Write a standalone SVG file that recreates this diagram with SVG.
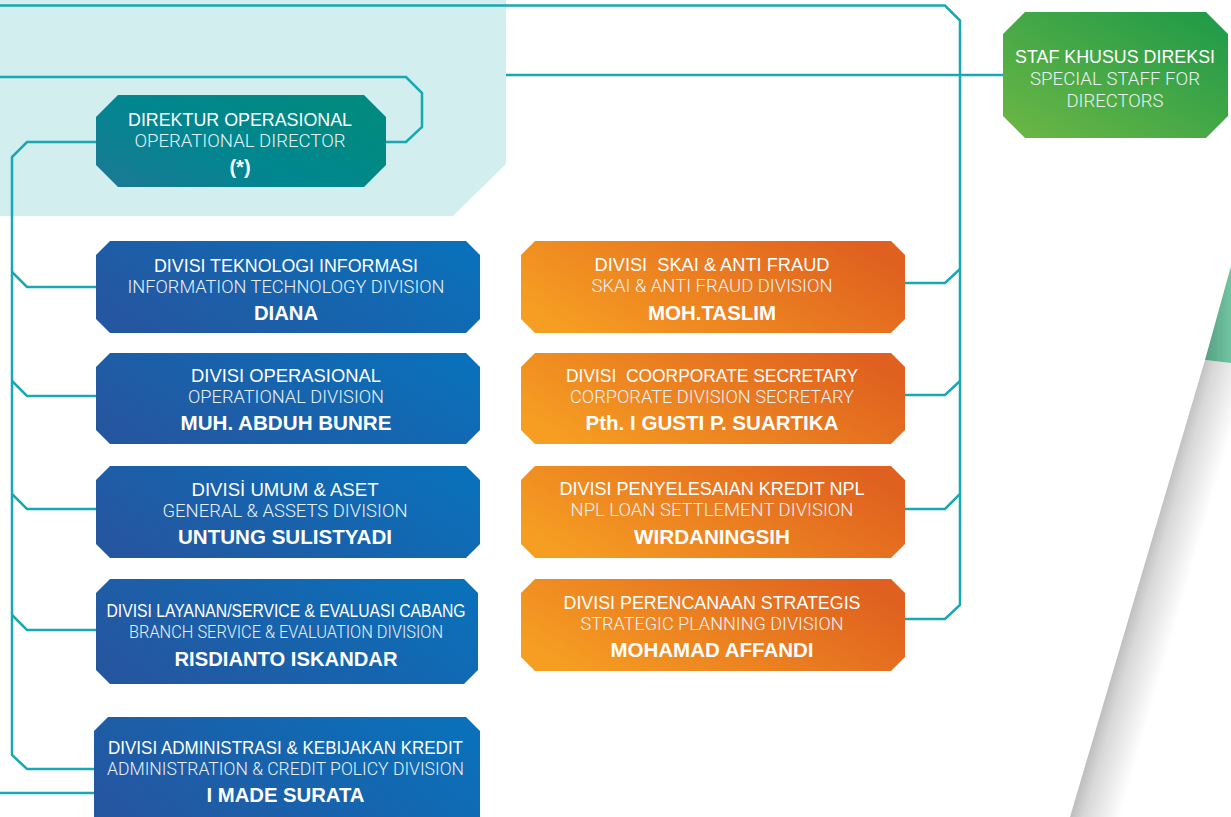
<svg xmlns="http://www.w3.org/2000/svg" width="1231" height="817" viewBox="0 0 1231 817">
<defs>
<linearGradient id="gBlue" x1="0" y1="0.7" x2="1" y2="0.3"><stop offset="0" stop-color="#2556a0"/><stop offset="1" stop-color="#0a70b9"/></linearGradient>
<linearGradient id="gOrange" x1="0" y1="0.7" x2="1" y2="0.3"><stop offset="0" stop-color="#f69e22"/><stop offset="1" stop-color="#df601f"/></linearGradient>
<linearGradient id="gDir" x1="0" y1="1" x2="1" y2="0.4"><stop offset="0" stop-color="#1d7994"/><stop offset="0.5" stop-color="#008690"/><stop offset="1" stop-color="#008a80"/></linearGradient>
<linearGradient id="gStaff" x1="0" y1="1" x2="1" y2="0"><stop offset="0" stop-color="#6db744"/><stop offset="1" stop-color="#1d9949"/></linearGradient>
<linearGradient id="gTri" x1="1205" y1="0" x2="1231" y2="0" gradientUnits="userSpaceOnUse"><stop offset="0" stop-color="#55a083"/><stop offset="1" stop-color="#71c4a2"/></linearGradient>
<linearGradient id="gShadow" x1="1140" y1="580" x2="1185" y2="593" gradientUnits="userSpaceOnUse"><stop offset="0" stop-color="#c0c0c0"/><stop offset="0.25" stop-color="#d8d8d8"/><stop offset="1" stop-color="#ffffff"/></linearGradient>
<style>
.ln{fill:none;stroke:#17a8b1;stroke-width:2.5}
.t1{font-family:'Liberation Sans',Arial,sans-serif;font-size:18px;fill:#ffffff;text-anchor:middle}
.t2{font-family:Roboto,'Liberation Sans',sans-serif;font-weight:300;font-size:18px;fill:#e9f1f8;text-anchor:middle}
.t3{font-family:'Liberation Sans',Arial,sans-serif;font-weight:bold;font-size:20px;fill:#ffffff;text-anchor:middle}
</style>
</defs>
<rect width="1231" height="817" fill="#ffffff"/>
<path d="M0,0 H506 V164 L453,216 H0 Z" fill="#d3eeee"/>
<g id="decor">
<path d="M1205,360 L1231,363 V817 H1070 Z" fill="url(#gShadow)"/>
<path d="M1231,266 L1205,360 L1231,363 Z" fill="url(#gTri)"/>
</g>
<g id="connectors">
<path class="ln" d="M0,5.5 H945 L960,20.5 V605 L945,619 H905"/>
<path class="ln" d="M506,75 H1003"/>
<path class="ln" d="M0,77 H406 L422,93 V127 L406,142 H386"/>
<path class="ln" d="M96,142 H27 L12,157 V755 L27,769 H94"/>
<path class="ln" d="M12,272 L27,287 H96"/>
<path class="ln" d="M12,381 L27,396 H96"/>
<path class="ln" d="M12,494 L27,509 H96"/>
<path class="ln" d="M12,615 L27,630 H96"/>
<path class="ln" d="M0,793 H94"/>
<path class="ln" d="M905,283 H945 L960,269"/>
<path class="ln" d="M905,395 H945 L960,381"/>
<path class="ln" d="M905,509 H945 L960,494"/>
</g>
<g id="director">
<path d="M118,95 H364 L386,117 V165 L364,187 H118 L96,165 V117 Z" fill="url(#gDir)"/>
<text class="t1" x="240" y="126" textLength="224" lengthAdjust="spacingAndGlyphs">DIREKTUR OPERASIONAL</text>
<text class="t2" x="240" y="147" textLength="211" lengthAdjust="spacingAndGlyphs">OPERATIONAL DIRECTOR</text>
<text class="t3" x="240" y="174">(*)</text>
</g>
<g id="staff">
<path d="M1025,12 H1206 L1228,34 V116 L1206,138 H1025 L1003,116 V34 Z" fill="url(#gStaff)"/>
<text class="t1" x="1115" y="63" textLength="200" lengthAdjust="spacingAndGlyphs">STAF KHUSUS DIREKSI</text>
<text class="t2" x="1115" y="85" textLength="170" lengthAdjust="spacingAndGlyphs">SPECIAL STAFF FOR</text>
<text class="t2" x="1115" y="107" textLength="97" lengthAdjust="spacingAndGlyphs">DIRECTORS</text>
</g>
<g id="div-ti">
<path d="M110,241 H466 L480,255 V319 L466,333 H110 L96,319 V255 Z" fill="url(#gBlue)"/>
<text class="t1" x="286" y="271.5" textLength="264" lengthAdjust="spacingAndGlyphs">DIVISI TEKNOLOGI INFORMASI</text>
<text class="t2" x="286" y="292.5" textLength="317" lengthAdjust="spacingAndGlyphs">INFORMATION TECHNOLOGY DIVISION</text>
<text class="t3" x="286" y="319.5" textLength="64" lengthAdjust="spacingAndGlyphs">DIANA</text>
</g>
<g id="div-op">
<path d="M110,353 H466 L480,367 V430 L466,444 H110 L96,430 V367 Z" fill="url(#gBlue)"/>
<text class="t1" x="286" y="382" textLength="190" lengthAdjust="spacingAndGlyphs">DIVISI OPERASIONAL</text>
<text class="t2" x="286" y="403" textLength="196" lengthAdjust="spacingAndGlyphs">OPERATIONAL DIVISION</text>
<text class="t3" x="286" y="430" textLength="211" lengthAdjust="spacingAndGlyphs">MUH. ABDUH BUNRE</text>
</g>
<g id="div-umum">
<path d="M110,466 H466 L480,480 V544 L466,558 H110 L96,544 V480 Z" fill="url(#gBlue)"/>
<text class="t1" x="285" y="495.5" textLength="187" lengthAdjust="spacingAndGlyphs">DIVISİ UMUM &amp; ASET</text>
<text class="t2" x="285" y="517" textLength="245" lengthAdjust="spacingAndGlyphs">GENERAL &amp; ASSETS DIVISION</text>
<text class="t3" x="285" y="544" textLength="214" lengthAdjust="spacingAndGlyphs">UNTUNG SULISTYADI</text>
</g>
<g id="div-layanan">
<path d="M110,579 H464 L478,593 V670 L464,684 H110 L96,670 V593 Z" fill="url(#gBlue)"/>
<text class="t1" x="286" y="616.5" textLength="359" lengthAdjust="spacingAndGlyphs">DIVISI LAYANAN/SERVICE &amp; EVALUASI CABANG</text>
<text class="t2" x="286" y="638" textLength="314" lengthAdjust="spacingAndGlyphs">BRANCH SERVICE &amp; EVALUATION DIVISION</text>
<text class="t3" x="286" y="666" textLength="223" lengthAdjust="spacingAndGlyphs">RISDIANTO ISKANDAR</text>
</g>
<g id="div-admin">
<path d="M108,717 H466 L480,731 V830 H94 V731 Z" fill="url(#gBlue)"/>
<text class="t1" x="285.5" y="754" textLength="355" lengthAdjust="spacingAndGlyphs">DIVISI ADMINISTRASI &amp; KEBIJAKAN KREDIT</text>
<text class="t2" x="285.5" y="775" textLength="357" lengthAdjust="spacingAndGlyphs">ADMINISTRATION &amp; CREDIT POLICY DIVISION</text>
<text class="t3" x="285.5" y="802" textLength="158" lengthAdjust="spacingAndGlyphs">I MADE SURATA</text>
</g>
<g id="div-skai">
<path d="M535,241 H891 L905,255 V319 L891,333 H535 L521,319 V255 Z" fill="url(#gOrange)"/>
<text class="t1" x="712" y="271" textLength="235" lengthAdjust="spacingAndGlyphs" xml:space="preserve">DIVISI  SKAI &amp; ANTI FRAUD</text>
<text class="t2" x="712" y="292" textLength="241" lengthAdjust="spacingAndGlyphs">SKAI &amp; ANTI FRAUD DIVISION</text>
<text class="t3" x="712" y="320" textLength="128" lengthAdjust="spacingAndGlyphs">MOH.TASLIM</text>
</g>
<g id="div-corsec">
<path d="M535,353 H891 L905,367 V430 L891,444 H535 L521,430 V367 Z" fill="url(#gOrange)"/>
<text class="t1" x="712" y="382" textLength="292" lengthAdjust="spacingAndGlyphs" xml:space="preserve">DIVISI  COORPORATE SECRETARY</text>
<text class="t2" x="712" y="403" textLength="284" lengthAdjust="spacingAndGlyphs">CORPORATE DIVISION SECRETARY</text>
<text class="t3" x="712" y="430" textLength="253" lengthAdjust="spacingAndGlyphs">Pth. I GUSTI P. SUARTIKA</text>
</g>
<g id="div-npl">
<path d="M535,466 H891 L905,480 V544 L891,558 H535 L521,544 V480 Z" fill="url(#gOrange)"/>
<text class="t1" x="712" y="494.5" textLength="305" lengthAdjust="spacingAndGlyphs">DIVISI PENYELESAIAN KREDIT NPL</text>
<text class="t2" x="712" y="516" textLength="283" lengthAdjust="spacingAndGlyphs">NPL LOAN SETTLEMENT DIVISION</text>
<text class="t3" x="712" y="544" textLength="156" lengthAdjust="spacingAndGlyphs">WIRDANINGSIH</text>
</g>
<g id="div-strategis">
<path d="M535,579 H891 L905,593 V657 L891,671 H535 L521,657 V593 Z" fill="url(#gOrange)"/>
<text class="t1" x="712" y="608.5" textLength="297" lengthAdjust="spacingAndGlyphs">DIVISI PERENCANAAN STRATEGIS</text>
<text class="t2" x="712" y="629.5" textLength="263" lengthAdjust="spacingAndGlyphs">STRATEGIC PLANNING DIVISION</text>
<text class="t3" x="712" y="657" textLength="203" lengthAdjust="spacingAndGlyphs">MOHAMAD AFFANDI</text>
</g>
</svg>
